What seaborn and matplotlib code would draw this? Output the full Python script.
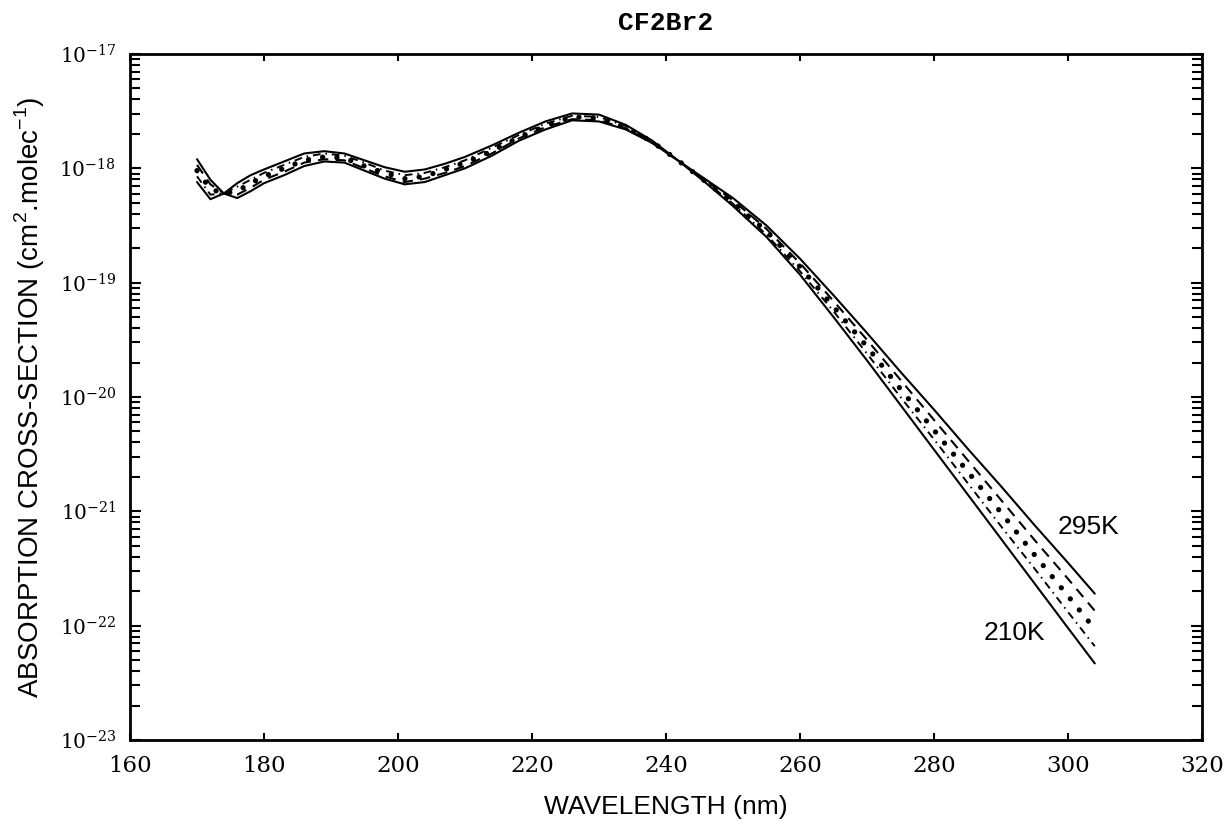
import numpy as np
import seaborn as sns
import matplotlib
matplotlib.use("Agg")
import matplotlib.pyplot as plt
from matplotlib.ticker import FixedLocator, NullFormatter, NullLocator

# wavelength (nm)
wavelength = [170, 172, 174, 176, 178, 180, 183, 186, 189, 192, 195, 198, 201, 204,
              207, 210, 214, 218, 222, 226, 230, 234, 238, 242, 246, 250, 255, 260,
              265, 270, 275, 280, 285, 290, 295, 300, 304]

# log10 of cross-section (cm2 molec-1)
log_sigma_295 = [-17.92, -18.10, -18.22, -18.26, -18.20, -18.13, -18.06, -17.98, -17.94,
                 -17.95, -18.02, -18.09, -18.14, -18.12, -18.06, -18.00, -17.89, -17.76,
                 -17.66, -17.58, -17.59, -17.66, -17.78, -17.94, -18.10, -18.26, -18.50,
                 -18.79, -19.11, -19.44, -19.78, -20.11, -20.45, -20.78, -21.12, -21.45,
                 -21.72]
log_sigma_270 = [-17.97, -18.14, -18.22, -18.23, -18.17, -18.10, -18.03, -17.95, -17.92,
                 -17.93, -18.00, -18.07, -18.12, -18.09, -18.04, -17.98, -17.87, -17.74,
                 -17.64, -17.57, -17.58, -17.65, -17.78, -17.94, -18.11, -18.28, -18.53,
                 -18.83, -19.16, -19.50, -19.85, -20.20, -20.55, -20.90, -21.25, -21.59,
                 -21.87]
log_sigma_250 = [-18.02, -18.18, -18.22, -18.20, -18.13, -18.07, -18.00, -17.93, -17.90,
                 -17.91, -17.98, -18.04, -18.09, -18.07, -18.01, -17.95, -17.85, -17.73,
                 -17.63, -17.55, -17.56, -17.64, -17.77, -17.94, -18.12, -18.30, -18.55,
                 -18.86, -19.21, -19.56, -19.93, -20.29, -20.65, -21.01, -21.38, -21.74,
                 -22.03]
log_sigma_230 = [-18.07, -18.23, -18.22, -18.16, -18.10, -18.04, -17.97, -17.90, -17.87,
                 -17.89, -17.95, -18.02, -18.06, -18.04, -17.99, -17.93, -17.82, -17.71,
                 -17.61, -17.54, -17.55, -17.63, -17.77, -17.94, -18.12, -18.31, -18.58,
                 -18.90, -19.25, -19.62, -20.00, -20.37, -20.75, -21.13, -21.50, -21.88,
                 -22.18]
log_sigma_210 = [-18.12, -18.27, -18.22, -18.13, -18.06, -18.01, -17.94, -17.87, -17.85,
                 -17.87, -17.93, -17.99, -18.03, -18.01, -17.96, -17.90, -17.80, -17.69,
                 -17.59, -17.52, -17.53, -17.62, -17.76, -17.94, -18.13, -18.33, -18.60,
                 -18.93, -19.30, -19.68, -20.07, -20.46, -20.85, -21.24, -21.63, -22.02,
                 -22.33]

sns.set_style("ticks", {"axes.edgecolor": "black", "xtick.color": "black",
                        "ytick.color": "black", "text.color": "black",
                        "axes.labelcolor": "black"})
plt.rcParams["font.family"] = ["DejaVu Serif"]
sans = ["Liberation Sans", "DejaVu Sans"]

fig = plt.figure(figsize=(12.3, 8.32), dpi=100)
ax = fig.add_axes([0.1057, 0.1106, 0.8715, 0.8245])
ax.set_yscale("log")

curves = [
    (log_sigma_295, dict(linestyle="-", lw=1.5)),
    (log_sigma_270, dict(linestyle=(0, (5, 3.5)), lw=1.5)),
    (log_sigma_250, dict(linestyle=(0, (0.01, 2.7)), lw=3.8, dash_capstyle="round")),
    (log_sigma_230, dict(linestyle=(0, (4, 2.5, 0.8, 2.5)), lw=1.4)),
    (log_sigma_210, dict(linestyle="-", lw=1.5)),
]
for vals, kw in curves:
    sns.lineplot(x=wavelength, y=np.power(10.0, vals), ax=ax, color="black", **kw)

ax.set_xlim(160, 320)
ax.set_xticks(range(160, 321, 20))
ax.xaxis.set_minor_locator(NullLocator())
ax.set_ylim(1e-23, 1e-17)
ax.yaxis.set_major_locator(FixedLocator([10.0 ** e for e in range(-23, -16)]))
ax.yaxis.set_minor_locator(FixedLocator([m * 10.0 ** e for e in range(-23, -17)
                                         for m in range(2, 10)]))
ax.yaxis.set_minor_formatter(NullFormatter())

ax.tick_params(axis="both", which="both", direction="in", top=True, right=True, width=1.5)
ax.tick_params(axis="y", which="major", length=8, pad=10, labelsize=14.5)
ax.tick_params(axis="y", which="minor", length=7)
ax.tick_params(axis="x", which="major", length=5, pad=11, labelsize=16.5)
for s in ax.spines.values():
    s.set_linewidth(2)

ax.set_xlabel("WAVELENGTH (nm)", family=sans, fontsize=19)
ax.set_ylabel(r"ABSORPTION CROSS-SECTION (cm$^{\mathdefault{2}}$.molec$^{\mathdefault{-1}}$)",
              family=sans, fontsize=20)
ax.xaxis.set_label_coords(0.5, -0.080)
ax.yaxis.set_label_coords(-0.077, 0.5)

ax.text(303, 10 ** -21.14, "295K", family=sans, fontsize=19, ha="center", va="center")
ax.text(292, 10 ** -22.06, "210K", family=sans, fontsize=19, ha="center", va="center")

fig.text(0.5415, 1 - 23 / 832, "CF2Br2", family="Liberation Mono", fontsize=19,
         fontweight="bold", ha="center", va="center")

fig.savefig("out.png", dpi=100)
